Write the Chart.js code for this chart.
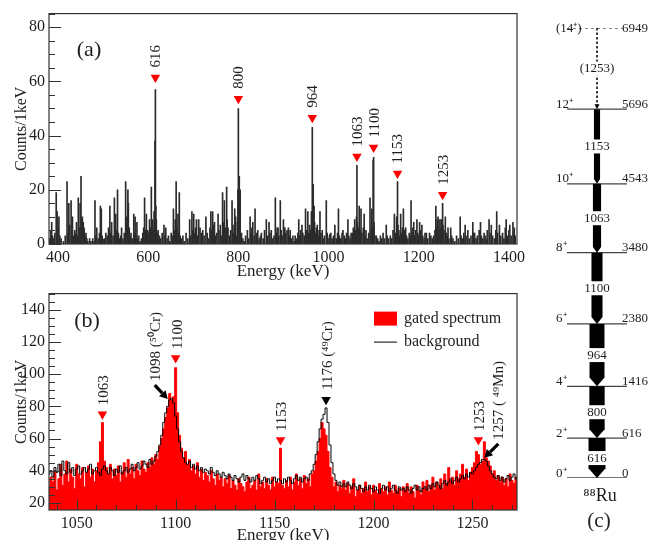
<!DOCTYPE html>
<html>
<head>
<meta charset="utf-8">
<script src="https://cdn.jsdelivr.net/npm/chart.js@4.4.1/dist/chart.umd.min.js"></script>
<style>
  body { margin: 0; background: #fff; }
  #fig { position: relative; width: 648px; height: 540px; overflow: hidden; background: #fff; }
  canvas { position: absolute; }
</style>
</head>
<body>
<div id="fig">
  <canvas id="chartA" width="530" height="282" style="left:0px;top:0px"></canvas>
  <canvas id="chartB" width="530" height="272" style="left:0px;top:280px"></canvas>
  <canvas id="chartC" width="118" height="540" style="left:530px;top:0px"></canvas>
</div>
<script>
// ---------- panel (a): singles-like gated spectrum, sparse [energy, counts] ----------
const A_TICKS_X = [400, 600, 800, 1000, 1200, 1400];
const A_TICKS_Y = [0, 20, 40, 60, 80];
const A_PEAKS = [616, 800, 964, 1063, 1100, 1153, 1253];
const A_MARK_Y = [61.4, 53.6, 46.6, 32.3, 35.6, 26, 18.2];
const A_SPECTRUM = [
  [382,2],[384,5],[386,8],[388,3],[390,2],[393,4],[396,19],[398,12],[400,6],[402,10],[404,3],[407,2],[412,1],[416,3],
  [420,23],[422,4],[424,15],[426,7],[429,16],[431,5],[432,10],[435,3],[437,5],[439,4],[441,8],[443,3],[445,17],[447,6],
  [449,15],[451,25],[452,9],[453,7],[454,10],[455,5],[456,8],[457,4],[458,6],[460,3],[462,4],[464,2],[466,1],[470,2],
  [473,1],[477,2],[480,1],[482,16],[484,3],[486,6],[489,2],[492,4],[494,14],[496,13],[498,3],[500,1],[503,2],[506,4],
  [509,3],[512,6],[515,14],[517,4],[519,8],[522,3],[525,17],[528,11],[530,5],[532,20],[534,4],[536,2],[539,3],[541,6],
  [544,2],[547,4],[550,23],[551,9],[552,10],[553,7],[555,20],[556,15],[558,6],[560,3],[562,4],[565,2],[568,11],[570,4],
  [571,10],[573,3],[575,8],[577,2],[579,3],[582,1],[585,2],[588,4],[590,6],[592,17],[594,5],[596,11],[598,3],[599,5],
  [601,4],[603,9],[605,6],[607,21],[609,9],[611,5],[613,12],[614,8],[615,38],[616,57],[617,14],[618,9],[620,4],[622,5],
  [625,3],[628,2],[631,4],[635,7],[637,3],[639,6],[642,2],[645,3],[648,1],[651,4],[654,3],[656,13],[658,5],[660,9],
  [662,23],[664,6],[666,11],[668,4],[669,19],[671,3],[674,2],[677,3],[680,1],[684,4],[688,2],[692,9],[694,3],[697,12],
  [699,5],[701,11],[703,4],[705,6],[707,9],[709,3],[712,9],[715,6],[718,4],[721,5],[724,3],[728,10],[731,4],[734,2],
  [737,6],[739,12],[741,5],[743,12],[745,7],[747,8],[749,3],[752,4],[755,11],[757,5],[760,7],[762,3],[765,19],[767,8],
  [769,16],[771,6],[774,21],[775,9],[777,6],[780,3],[783,5],[786,16],[788,7],[790,4],[792,13],[794,10],[796,3],[798,8],
  [799,20],[800,50],[801,12],[802,25],[804,20],[806,3],[807,4],[810,2],[813,1],[816,3],[820,5],[823,2],[826,10],[828,4],
  [830,6],[832,8],[835,3],[837,13],[840,4],[843,5],[846,2],[849,3],[851,4],[855,2],[858,5],[862,9],[865,3],[868,8],
  [870,4],[873,5],[876,2],[879,3],[882,17],[884,4],[886,6],[888,6],[890,3],[893,16],[895,5],[897,3],[900,9],[902,6],
  [903,6],[905,4],[908,5],[911,6],[913,3],[915,5],[918,2],[921,3],[924,1],[926,3],[929,2],[932,4],[934,9],[936,3],
  [938,5],[941,7],[943,4],[946,3],[949,13],[951,5],[954,12],[956,4],[958,7],[960,5],[962,12],[963,9],[964,43],[965,14],
  [966,22],[968,14],[969,8],[971,4],[973,6],[975,7],[977,3],[979,5],[981,12],[983,4],[986,5],[988,2],[991,3],[995,16],
  [997,4],[999,2],[1002,3],[1005,4],[1008,2],[1011,3],[1014,7],[1017,2],[1020,4],[1022,13],[1024,3],[1027,2],[1030,4],
  [1032,5],[1035,3],[1038,2],[1040,4],[1043,9],[1045,3],[1048,2],[1050,4],[1053,4],[1055,6],[1058,9],[1060,5],[1062,10],
  [1063,29],[1064,8],[1066,6],[1068,14],[1070,5],[1072,13],[1074,4],[1077,6],[1079,11],[1081,3],[1083,5],[1086,2],
  [1089,4],[1092,17],[1094,5],[1096,13],[1098,6],[1099,31],[1100,32],[1101,8],[1103,3],[1106,3],[1109,2],[1112,1],
  [1115,3],[1118,2],[1121,4],[1124,2],[1128,7],[1130,3],[1133,2],[1137,3],[1140,2],[1143,5],[1146,11],[1148,4],
  [1151,10],[1152,6],[1153,23],[1154,7],[1156,5],[1158,3],[1160,11],[1162,4],[1164,6],[1166,13],[1168,5],[1171,6],
  [1173,3],[1176,2],[1179,4],[1181,3],[1183,16],[1185,4],[1187,6],[1189,8],[1191,3],[1193,5],[1196,9],[1198,4],
  [1200,3],[1202,8],[1204,5],[1207,7],[1209,3],[1212,2],[1214,4],[1217,4],[1220,2],[1224,4],[1227,3],[1230,2],
  [1233,3],[1236,5],[1238,14],[1240,6],[1241,9],[1243,10],[1245,5],[1247,9],[1248,6],[1250,9],[1252,4],[1253,15],
  [1254,7],[1256,5],[1259,10],[1261,4],[1263,3],[1265,6],[1267,2],[1271,6],[1273,3],[1276,2],[1280,1],[1284,3],
  [1288,2],[1292,10],[1294,3],[1297,2],[1300,4],[1303,7],[1305,3],[1309,5],[1312,2],[1316,3],[1320,8],[1322,4],
  [1324,4],[1327,2],[1330,3],[1334,5],[1337,8],[1339,3],[1342,2],[1345,4],[1348,3],[1352,5],[1356,9],[1358,4],
  [1361,7],[1364,3],[1368,2],[1371,5],[1373,12],[1375,4],[1379,7],[1382,3],[1386,4],[1389,2],[1392,6],[1394,9],
  [1397,3],[1400,5],[1402,7],[1405,3],[1409,8],[1411,4],[1412,6],[1414,3]
];

// ---------- panel (b): 1 keV bins starting at B_START ----------
const B_START = 1035;
const B_GATED = [
  32,
  30, 36, 33, 40, 28, 35, 44, 31, 38, 46,
  33, 41, 36, 29, 44, 38, 35, 42, 30, 39,
  43, 36, 41, 33, 40, 45, 58, 70, 46, 42,
  38, 44, 35, 41, 37, 43, 33, 39, 45, 36,
  47, 38, 42, 35, 44, 40, 37, 46, 41, 39,
  45, 42, 48, 44, 50, 47, 55, 60, 66, 73,
  79, 88, 84, 86, 104, 76, 62, 54, 48, 52,
  44, 47, 40, 43, 38, 45, 36, 41, 34, 39,
  37, 33, 40, 35, 31, 38, 34, 36, 30, 35,
  32, 37, 29, 34, 31, 28, 35, 32, 30, 27,
  33, 36, 29, 31, 34, 28, 38, 30, 33, 29,
  35, 31, 28, 36, 30, 33, 32, 54, 31, 29,
  34, 30, 36, 28, 33, 38, 31, 35, 29, 37,
  32, 35, 30, 38, 40, 46, 52, 60, 70, 66,
  62, 52, 42, 36, 30, 33, 27, 31, 29, 34,
  28, 32, 26, 30, 35, 24, 28, 31, 26, 29,
  33, 27, 30, 25, 31, 28, 26, 32, 29, 27,
  30, 25, 33, 28, 26, 31, 27, 29, 24, 30,
  28, 32, 26, 30, 27, 23, 31, 28, 25, 33,
  29, 34, 27, 31, 36, 28, 33, 30, 35, 29,
  38, 32, 42, 34, 36, 31, 40, 35, 38, 44,
  36, 41, 34, 39, 42, 45, 52, 50, 44, 46,
  58, 48, 46, 43, 38, 40, 34, 37, 33, 36,
  31, 35, 30, 38, 34, 32, 36,
  30
];
const B_BACKGROUND = [
  37,
  38, 40, 36, 42, 39, 44, 37, 46, 40, 38,
  45, 39, 42, 37, 41, 43, 38, 40, 42, 39,
  41, 44, 38, 40, 42, 39, 37, 41, 43, 40,
  38, 42, 40, 37, 41, 39, 43, 38, 40, 42,
  39, 41, 44, 40, 42, 45, 41, 43, 46, 44,
  42, 47, 44, 46, 49, 52, 56, 62, 70, 76,
  80, 84, 85, 82, 74, 66, 58, 52, 48, 45,
  44, 46, 42, 44, 41, 43, 40, 42, 39, 41,
  40, 38, 42, 39, 37, 40, 38, 36, 39, 37,
  35, 38, 36, 34, 37, 35, 33, 36, 38, 34,
  37, 35, 33, 36, 34, 37, 35, 32, 34, 36,
  33, 35, 32, 34, 36, 33, 35, 34, 32, 35,
  33, 36, 34, 32, 35, 37, 34, 36, 33, 35,
  36, 34, 38, 40, 44, 50, 58, 66, 72, 75,
  79, 70, 56, 45, 38, 34, 31, 33, 30, 32,
  30, 33, 31, 29, 32, 30, 28, 31, 29, 27,
  30, 28, 31, 29, 27, 30, 28, 26, 29, 31,
  28, 30, 27, 29, 31, 28, 26, 30, 28, 29,
  27, 30, 28, 26, 29, 31, 28, 30, 27, 29,
  30, 28, 31, 29, 32, 30, 33, 31, 29, 32,
  34, 31, 33, 35, 32, 34, 36, 33, 35, 37,
  35, 38, 36, 39, 38, 40, 42, 44, 45, 47,
  47, 46, 43, 40, 38, 36, 35, 37, 34, 36,
  33, 35, 37, 34, 36, 38, 35,
  36
];
const B_TICKS_X = [1050, 1100, 1150, 1200, 1250];
const B_TICKS_Y = [20, 40, 60, 80, 100, 120, 140];
const B_RED_PEAKS = [1063, 1100, 1153, 1253];
const B_RED_MARK_Y = [75, 110, 59, 59];
const B_BLACK_PEAKS = [1176];
const B_BLACK_MARK_Y = [84];
const B_RED_TEXT = ['1063', '1100', '1153', '1253'];
const B_BLACK_TEXT = ['1176 (\u2074\u2079Cr)'];
// contaminant lines pointed at with black arrows: [energy, counts at arrow tip]
const B_ARROW_AT = [[1096, 84.5], [1256, 48]];
const B_ARROW_TEXT = ['1098 (\u2075\u2070Cr)', '1257 ( \u2074\u2079Mn)'];

// ---------- panel (c): level scheme of 88Ru ----------
const LEVEL_E = [0, 616, 1416, 2380, 3480, 4543, 5696, 6949];
const LEVEL_SPIN = ['0\u207A', '2\u207A', '4\u207A', '6\u207A', '8\u207A', '10\u207A', '12\u207A', '(14\u207A)'];
const GAMMA_LABEL = ['616', '800', '964', '1100', '1063', '1153', '(1253)'];
const GAMMA_INT = [100, 90, 88, 65, 48, 36, 0];   // relative arrow width, 0 = tentative (dashed)

const SERIF = "'Liberation Serif', 'Times New Roman', serif";
const INK = '#1e1e1e';
const RED = '#ff0000';

function vText(ctx, text, x, y, size) {
  // rotated text reading upward, starting at (x, y)
  ctx.save();
  ctx.translate(x, y);
  ctx.rotate(-Math.PI / 2);
  ctx.font = size + 'px ' + SERIF;
  ctx.fillStyle = INK;
  ctx.textAlign = 'left';
  ctx.textBaseline = 'middle';
  ctx.fillText(text, 0, 0);
  ctx.restore();
}

function thickArrow(ctx, x0, y0, x1, y1) {
  const a = Math.atan2(y1 - y0, x1 - x0);
  const hx = x1 - 8 * Math.cos(a), hy = y1 - 8 * Math.sin(a);
  ctx.save();
  ctx.strokeStyle = '#000';
  ctx.fillStyle = '#000';
  ctx.lineWidth = 3.2;
  ctx.beginPath(); ctx.moveTo(x0, y0); ctx.lineTo(hx, hy); ctx.stroke();
  ctx.beginPath();
  ctx.moveTo(x1, y1);
  ctx.lineTo(hx + 4.5 * Math.sin(a), hy - 4.5 * Math.cos(a));
  ctx.lineTo(hx - 4.5 * Math.sin(a), hy + 4.5 * Math.cos(a));
  ctx.closePath(); ctx.fill();
  ctx.restore();
}

// frame around the plot area plus inward major/minor ticks
const framePlugin = {
  id: 'frame',
  afterDatasetsDraw(chart, args, opts) {
    const { ctx, chartArea: a, scales: { x, y } } = chart;
    ctx.save();
    ctx.strokeStyle = '#333';
    ctx.lineWidth = 1;
    ctx.beginPath();
    const tick = (v, axis, len) => {
      if (axis === 'x') {
        const p = Math.round(x.getPixelForValue(v)) + 0.5;
        ctx.moveTo(p, a.bottom); ctx.lineTo(p, a.bottom - len);
      } else {
        const p = Math.round(y.getPixelForValue(v)) + 0.5;
        ctx.moveTo(a.left, p); ctx.lineTo(a.left + len, p);
      }
    };
    for (let v = Math.ceil(x.min / opts.xMinor) * opts.xMinor; v <= x.max; v += opts.xMinor) tick(v, 'x', 5);
    for (let v = Math.ceil(y.min / opts.yMinor) * opts.yMinor; v <= y.max; v += opts.yMinor) tick(v, 'y', 6);
    opts.xMajor.forEach(v => tick(v, 'x', 10));
    opts.yMajor.forEach(v => tick(v, 'y', 12));
    ctx.stroke();
    ctx.lineWidth = 1.2;
    ctx.strokeRect(a.left, a.top, a.right - a.left, a.bottom - a.top);
    ctx.restore();
  }
};

function axisOptions(min, max, ticks, size, title, titlePad) {
  return {
    type: 'linear', min: min, max: max, offset: false,
    afterBuildTicks: s => { s.ticks = ticks.map(v => ({ value: v })); },
    afterFit: s => { if (s.isHorizontal()) s.height = size; else s.width = size; },
    grid: { display: false, drawTicks: false },
    border: { display: false },
    ticks: { autoSkip: false, maxRotation: 0, padding: 4, color: INK,
             font: { family: SERIF, size: 16 }, callback: v => String(v) },
    title: { display: true, text: title, color: INK, font: { family: SERIF, size: 16 }, padding: titlePad }
  };
}

// ---------- chart (a) ----------
const annotateA = {
  id: 'annotateA',
  afterDatasetsDraw(chart) {
    const { ctx, chartArea: a, scales: { x, y } } = chart;
    A_PEAKS.forEach((e, i) => {
      vText(ctx, String(e), x.getPixelForValue(e) + 1, y.getPixelForValue(A_MARK_Y[i]) - 10, 15);
    });
    ctx.save();
    ctx.font = '22px ' + SERIF; ctx.fillStyle = INK;
    ctx.textAlign = 'center'; ctx.textBaseline = 'middle';
    ctx.fillText('(a)', a.left + 40, a.top + 37);
    ctx.restore();
  }
};

const axA = axisOptions(380, 1418, A_TICKS_X, 38, 'Energy (keV)', { top: 0, bottom: 0 });
axA.title.font = { family: SERIF, size: 17 };
const ayA = axisOptions(0, 85, A_TICKS_Y, 49, 'Counts/1keV', { top: 12, bottom: 0 });

new Chart(document.getElementById('chartA'), {
  type: 'bar',
  data: {
    datasets: [
      { type: 'scatter', data: A_PEAKS.map((e, i) => ({ x: e, y: A_MARK_Y[i] })),
        pointStyle: 'triangle', rotation: 180, radius: 5.5, borderWidth: 0,
        backgroundColor: RED, borderColor: RED, order: 0 },
      { type: 'bar', data: A_SPECTRUM.map(p => ({ x: p[0], y: p[1] })),
        backgroundColor: '#2b2b2b', barThickness: 1, grouped: false, order: 1 }
    ]
  },
  options: {
    responsive: false, animation: false, events: [],
    layout: { padding: { left: 0, right: 13, top: 6, bottom: 0 } },
    plugins: { legend: { display: false }, tooltip: { enabled: false },
               frame: { xMajor: A_TICKS_X, xMinor: 50, yMajor: A_TICKS_Y, yMinor: 5 } },
    scales: { x: axA, y: ayA }
  },
  plugins: [framePlugin, annotateA]
});

// ---------- chart (b) ----------
const annotateB = {
  id: 'annotateB',
  afterDatasetsDraw(chart) {
    const { ctx, chartArea: a, scales: { x, y } } = chart;
    B_RED_PEAKS.forEach((e, i) => {
      vText(ctx, B_RED_TEXT[i], x.getPixelForValue(e) + 2, y.getPixelForValue(B_RED_MARK_Y[i]) - 9, 15);
    });
    B_BLACK_PEAKS.forEach((e, i) => {
      vText(ctx, B_BLACK_TEXT[i], x.getPixelForValue(e) + 2, y.getPixelForValue(B_BLACK_MARK_Y[i]) - 10, 15);
    });
    B_ARROW_AT.forEach((p, i) => {
      const tx = x.getPixelForValue(p[0]), ty = y.getPixelForValue(p[1]);
      const dx = i === 0 ? -13 : 14;
      thickArrow(ctx, tx + dx, ty - 14, tx, ty);
      vText(ctx, B_ARROW_TEXT[i], tx + dx + 1, ty - 18, 15);
    });
    ctx.save();
    ctx.font = '22px ' + SERIF; ctx.fillStyle = INK;
    ctx.textAlign = 'center'; ctx.textBaseline = 'middle';
    ctx.fillText('(b)', a.left + 38, a.top + 28);
    // legend
    ctx.fillStyle = RED;
    ctx.fillRect(a.left + 325, a.top + 18, 23, 14);
    ctx.strokeStyle = '#000'; ctx.lineWidth = 1;
    ctx.beginPath(); ctx.moveTo(a.left + 325, a.top + 48.5); ctx.lineTo(a.left + 348, a.top + 48.5); ctx.stroke();
    ctx.fillStyle = INK; ctx.font = '16px ' + SERIF; ctx.textAlign = 'left';
    ctx.fillText('gated spectrum', a.left + 355, a.top + 25);
    ctx.fillText('background', a.left + 355, a.top + 48);
    ctx.restore();
  }
};

const axB = axisOptions(1036, 1272.5, B_TICKS_X, 42, 'Energy (keV)', { top: 0, bottom: 6 });
axB.title.font = { family: SERIF, size: 17 };
const ayB = axisOptions(15.6, 150, B_TICKS_Y, 49, 'Counts/1keV', { top: 12, bottom: 0 });

new Chart(document.getElementById('chartB'), {
  type: 'line',
  data: {
    datasets: [
      { label: 'background', data: B_BACKGROUND.map((v, i) => ({ x: B_START + i, y: v })),
        stepped: 'middle', borderColor: '#000', borderWidth: 1, pointRadius: 0, fill: false, order: 1 },
      { label: 'gated spectrum', data: B_GATED.map((v, i) => ({ x: B_START + i, y: v })),
        stepped: 'middle', borderColor: RED, backgroundColor: RED, borderWidth: 1,
        pointRadius: 0, fill: 'start', order: 2 },
      { type: 'scatter', data: B_RED_PEAKS.map((e, i) => ({ x: e, y: B_RED_MARK_Y[i] })),
        pointStyle: 'triangle', rotation: 180, radius: 5.5, borderWidth: 0,
        backgroundColor: RED, order: 0 },
      { type: 'scatter', data: B_BLACK_PEAKS.map((e, i) => ({ x: e, y: B_BLACK_MARK_Y[i] })),
        pointStyle: 'triangle', rotation: 180, radius: 5.5, borderWidth: 0,
        backgroundColor: '#000', order: 0 }
    ]
  },
  options: {
    responsive: false, animation: false, events: [],
    layout: { padding: { left: 0, right: 13, top: 6, bottom: 0 } },
    plugins: { legend: { display: false }, tooltip: { enabled: false },
               frame: { xMajor: B_TICKS_X, xMinor: 10, yMajor: B_TICKS_Y, yMinor: 5 } },
    scales: { x: axB, y: ayB }
  },
  plugins: [framePlugin, annotateB]
});

// ---------- chart (c): level scheme ----------
const LEVEL_X0 = 37, LEVEL_X1 = 97, ARROW_X = 67, SPIN_X = 26, ENERGY_X = 92;

const schemePlugin = {
  id: 'scheme',
  afterDatasetsDraw(chart) {
    const { ctx, scales: { x, y } } = chart;
    const cx = x.getPixelForValue(ARROW_X);
    ctx.save();
    GAMMA_LABEL.forEach((lab, i) => {
      const yTop = y.getPixelForValue(LEVEL_E[i + 1]);
      const yBot = y.getPixelForValue(LEVEL_E[i]);
      const w = GAMMA_INT[i] * 0.17;
      ctx.fillStyle = '#000';
      ctx.strokeStyle = '#000';
      if (w > 0) {
        const head = w * 0.45 + 2;
        ctx.beginPath();
        ctx.moveTo(cx - w / 2, yTop); ctx.lineTo(cx + w / 2, yTop);
        ctx.lineTo(cx + w / 2, yBot - head); ctx.lineTo(cx, yBot);
        ctx.lineTo(cx - w / 2, yBot - head); ctx.closePath(); ctx.fill();
      } else {
        ctx.lineWidth = 1.5; ctx.setLineDash([2.5, 2]);
        ctx.beginPath(); ctx.moveTo(cx, yTop); ctx.lineTo(cx, yBot - 4); ctx.stroke();
        ctx.setLineDash([]);
        ctx.beginPath(); ctx.moveTo(cx - 2.5, yBot - 5); ctx.lineTo(cx + 2.5, yBot - 5);
        ctx.lineTo(cx, yBot); ctx.closePath(); ctx.fill();
      }
      const ym = (yTop + yBot) / 2;
      ctx.font = '13px ' + SERIF;
      const tw = ctx.measureText(lab).width;
      ctx.fillStyle = '#fff';
      ctx.fillRect(cx - tw / 2 - 1, ym - 7, tw + 2, 14);
      ctx.fillStyle = INK; ctx.textAlign = 'center'; ctx.textBaseline = 'middle';
      ctx.fillText(lab, cx, ym + 0.5);
    });
    ctx.font = '13px ' + SERIF; ctx.fillStyle = INK;
    ctx.textAlign = 'left'; ctx.textBaseline = 'alphabetic';
    LEVEL_E.forEach((e, i) => {
      const yy = y.getPixelForValue(e);
      const dy = i === LEVEL_E.length - 1 ? 4 : -1.5;
      ctx.fillText(LEVEL_SPIN[i], x.getPixelForValue(SPIN_X), yy + dy);
      ctx.fillText(String(e), x.getPixelForValue(ENERGY_X), yy + dy);
    });
    ctx.textAlign = 'center'; ctx.textBaseline = 'middle';
    ctx.font = '18px ' + SERIF;
    ctx.fillText('\u2078\u2078Ru', cx + 3, 496);
    ctx.font = '21px ' + SERIF;
    ctx.fillText('(c)', cx + 2, 521);
    ctx.restore();
  }
};

new Chart(document.getElementById('chartC'), {
  type: 'line',
  data: {
    datasets: LEVEL_E.map((e, i) => ({
      data: [{ x: LEVEL_X0, y: e }, { x: LEVEL_X1, y: e }],
      borderColor: '#444', borderWidth: 1.3, pointRadius: 0,
      borderDash: i === LEVEL_E.length - 1 ? [3, 3] : []
    }))
  },
  options: {
    responsive: false, animation: false, events: [],
    layout: { padding: { left: 0, right: 0, top: 28, bottom: 62 } },
    plugins: { legend: { display: false }, tooltip: { enabled: false } },
    scales: {
      x: { type: 'linear', min: 0, max: 118, display: false },
      y: { type: 'linear', min: 0, max: 6949, display: false }
    }
  },
  plugins: [schemePlugin]
});
</script>
</body>
</html>
